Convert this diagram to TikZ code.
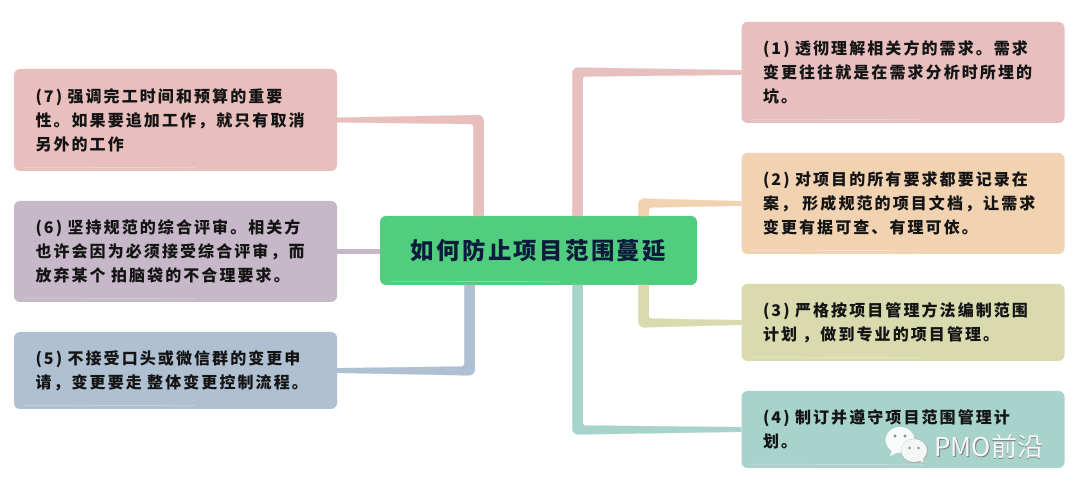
\documentclass[tikz,border=0pt]{standalone}
\usepackage{fontspec}
\usetikzlibrary{calc,shapes.geometric}
\newfontfamily\bodyf[LetterSpace=13]{Noto Sans CJK SC}
\newfontfamily\titlef[LetterSpace=10]{Noto Sans CJK SC}
\newfontfamily\markf{Noto Sans CJK SC}
\definecolor{c1}{HTML}{E7BFBE}
\definecolor{c2}{HTML}{F2D3B1}
\definecolor{c3}{HTML}{D9DBAE}
\definecolor{c4}{HTML}{A7D3CA}
\definecolor{c5}{HTML}{AFC0D2}
\definecolor{c6}{HTML}{C6B8C8}
\definecolor{c7}{HTML}{E9BFBE}
\definecolor{cc}{HTML}{51CD80}
\definecolor{ink}{HTML}{141414}
\definecolor{navy}{HTML}{0C1A3C}
\definecolor{bubble}{HTML}{F2F6F5}
\tikzset{
  card/.style={rectangle,rounded corners=6pt,minimum width=323pt,text width=280pt,
    inner xsep=21.5pt,inner ysep=0pt,align=left,text=ink,
    font=\bodyf\bfseries\fontsize{16}{24}\selectfont},
  hub/.style={rectangle,rounded corners=6pt,fill=cc,minimum width=317pt,minimum height=69pt,
    inner sep=0pt,text=navy,font=\titlef\bfseries\fontsize{23.4}{28}\selectfont},
  wire/.style={line width=.2pt},
  gloss/.style={white,opacity=.3,line width=.7pt},
}
% fill colour, start anchor, end coordinate, horizontal sense, vertical sense
\newcommand{\connelbow}[5]{%
  \draw[wire,draw=#1,fill=#1]
    ($(#2)+(0,{-(#5)*2.3})$)
    [rounded corners=6pt] -- ($(#3 |- #2)+({(#4)*5.25},{-(#5)*5})$)
    [sharp corners] -- ($(#3)+({(#4)*5.25},0)$)
    -- ($(#3)+({-(#4)*5.25},0)$)
    [rounded corners=2.5pt] -- ($(#3 |- #2)+({-(#4)*5.25},{(#5)*4})$)
    [sharp corners] -- ($(#2)+(0,{(#5)*2.3})$) -- cycle;}
\begin{document}
\begin{tikzpicture}[x=1pt,y=-1pt]
\useasboundingbox (0,0) rectangle (1080,494);
\fill[white] (0,0) rectangle (1080,494);

\node[card,fill=c7,minimum height=102pt] (n7) at (175.5,120)
  {(7) 强调完工时间和预算的重要\\性。如果要追加工作，就只有取消\\另外的工作};
\node[card,fill=c6,minimum height=101pt] (n6) at (175.5,251.5)
  {(6) 坚持规范的综合评审。相关方\\也许会因为必须接受综合评审，而\\放弃某个 拍脑袋的不合理要求。};
\node[card,fill=c5,minimum height=77pt] (n5) at (175.5,370.5)
  {(5) 不接受口头或微信群的变更申\\请，变更要走 整体变更控制流程。};
\node[card,fill=c1,minimum height=101pt] (n1) at (903,72.5)
  {(1) 透彻理解相关方的需求。需求\\变更往往就是在需求分析时所埋的\\坑。};
\node[card,fill=c2,minimum height=101pt] (n2) at (903,203.5)
  {(2) 对项目的所有要求都要记录在\\案， 形成规范的项目文档，让需求\\变更有据可查、有理可依。};
\node[card,fill=c3,minimum height=77pt] (n3) at (903,322.5)
  {(3) 严格按项目管理方法编制范围\\计划 ，做到专业的项目管理。};
\node[card,fill=c4,minimum height=77pt] (n4) at (903,429.5)
  {(4) 制订并遵守项目范围管理计\\划。};
\node[hub] (hub) at (538.5,250.5) {如何防止项目范围蔓延};

\coordinate (j7) at (478.5,216);
\coordinate (j1) at (577.5,216);
\coordinate (j2) at (643.5,216);
\coordinate (j3) at (643.5,285);
\coordinate (j4) at (577.5,285);
\coordinate (j5) at (469.5,285);
\connelbow{c7}{n7.east}{j7}{1}{1}
\connelbow{c1}{n1.west}{j1}{-1}{1}
\connelbow{c2}{n2.west}{j2}{-1}{1}
\connelbow{c3}{n3.west}{j3}{-1}{-1}
\connelbow{c4}{n4.west}{j4}{-1}{-1}
\connelbow{c5}{n5.east}{j5}{1}{-1}
\draw[c6,line width=5.5pt] (n6.east) -- (hub.west |- n6.east);

% faint highlight along the lower edge of each block
\foreach \n in {n7,n6,n5,n1,n2,n3,n4,hub}{
  \draw[gloss] ($(\n.south west)+(10,-4)$) -- ($(\n.south)+(20,-3.5)$);
}

% watermark
\fill[white,opacity=.92] (900,440) ellipse (14.5 and 13);
\fill[white,opacity=.92] (892,450) -- (890,456) -- (899,452) -- cycle;
\fill[black!45] (895,436) circle (1.6) (905,436) circle (1.6);
\fill[black!30] (914.5,451) ellipse (13.8 and 12.2);
\fill[black!30] (918,461) -- (925,464) -- (923,457) -- cycle;
\fill[bubble] (914,450.5) ellipse (13 and 11.5);
\fill[bubble] (918,460) -- (924,463) -- (922,456) -- cycle;
\fill[black!45] (909.5,448) circle (1.4) (918.5,448) circle (1.4);
\node[anchor=west,inner sep=0pt,text=black!50,font=\markf\fontsize{26}{30}\selectfont] (wmshade) at (934.8,447.3) {PMO前沿};
\node[anchor=west,inner sep=0pt,text=white!97!black,font=\markf\fontsize{26}{30}\selectfont] (wm) at (934,446.5) {PMO前沿};
\end{tikzpicture}
\end{document}
